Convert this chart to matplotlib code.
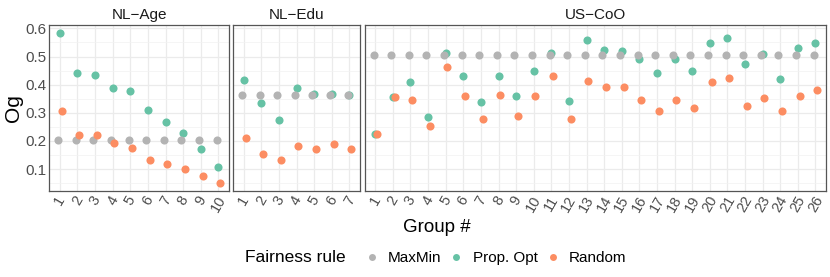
import matplotlib
matplotlib.use("Agg")
import matplotlib.pyplot as plt
from matplotlib.lines import Line2D
from matplotlib.transforms import ScaledTranslation

plt.rcParams["font.family"] = ["Liberation Sans", "DejaVu Sans"]

# valores (Og por grupo)
paneles = ["NL\u2212Age", "NL\u2212Edu", "US\u2212CoO"]

maxmin_age = [0.205] * 10
prop_age = [0.585, 0.441, 0.435, 0.389, 0.378, 0.310, 0.268, 0.230, 0.170, 0.108]
random_age = [0.307, 0.222, 0.220, 0.191, 0.175, 0.134, 0.119, 0.100, 0.075, 0.049]

maxmin_edu = [0.363] * 7
prop_edu = [0.418, 0.336, 0.273, 0.387, 0.367, 0.366, 0.363]
random_edu = [0.209, 0.155, 0.131, 0.183, 0.171, 0.188, 0.171]

maxmin_coo = [0.505] * 26
prop_coo = [0.225, 0.356, 0.408, 0.286, 0.514, 0.430, 0.340, 0.431, 0.360, 0.448,
            0.513, 0.341, 0.559, 0.523, 0.521, 0.490, 0.442, 0.491, 0.447, 0.548,
            0.567, 0.474, 0.509, 0.419, 0.530, 0.547]
random_coo = [0.225, 0.356, 0.347, 0.253, 0.464, 0.358, 0.279, 0.365, 0.289, 0.359,
              0.431, 0.278, 0.413, 0.390, 0.391, 0.347, 0.307, 0.346, 0.317, 0.408,
              0.423, 0.324, 0.351, 0.306, 0.359, 0.382]

reglas = ["MaxMin", "Prop. Opt", "Random"]
colores = {"MaxMin": "#B3B3B3", "Prop. Opt": "#66C2A5", "Random": "#FC8D62"}
desplaz = {"MaxMin": -0.1, "Prop. Opt": 0.0, "Random": 0.1}

datos = [
    {"MaxMin": maxmin_age, "Prop. Opt": prop_age, "Random": random_age},
    {"MaxMin": maxmin_edu, "Prop. Opt": prop_edu, "Random": random_edu},
    {"MaxMin": maxmin_coo, "Prop. Opt": prop_coo, "Random": random_coo},
]

W, H = 830, 277
fig = plt.figure(figsize=(W / 100, H / 100), dpi=100)

bordes_x = [(49.3, 229.0), (233.3, 360.0), (364.7, 826.0)]
arriba, abajo = 25, 191

for panel, serie, (x0, x1) in zip(paneles, datos, bordes_x):
    ax = fig.add_axes([x0 / W, 1 - abajo / H, (x1 - x0) / W, (abajo - arriba) / H])
    n = len(serie["MaxMin"])
    grupos = list(range(1, n + 1))
    for regla in ["Prop. Opt", "MaxMin", "Random"]:
        xs = [g + desplaz[regla] for g in grupos]
        ax.scatter(xs, serie[regla], s=34, color=colores[regla], linewidths=0, zorder=3)

    ax.set_xlim(0.4, n + 0.6)
    ax.set_ylim(0.0222, 0.612)
    ax.set_xticks(grupos)
    ax.set_xticklabels([str(g) for g in grupos], rotation=60, ha="center", va="top",
                       fontsize=10.5, color="#4D4D4D")
    desp = ScaledTranslation(4 / 100, 0, fig.dpi_scale_trans)
    for lab in ax.get_xticklabels():
        lab.set_transform(lab.get_transform() + desp)
    ax.set_yticks([0.1, 0.2, 0.3, 0.4, 0.5, 0.6])
    ax.set_yticks([0.05, 0.15, 0.25, 0.35, 0.45, 0.55], minor=True)
    ax.grid(which="major", color="#EBEBEB", linewidth=0.9, zorder=0)
    ax.grid(which="minor", axis="y", color="#F2F2F2", linewidth=0.5, zorder=0)
    ax.set_axisbelow(True)
    ax.tick_params(which="both", length=0, pad=2)
    if x0 < 50:
        ax.set_yticklabels(["0.1", "0.2", "0.3", "0.4", "0.5", "0.6"], fontsize=11, color="#4D4D4D")
    else:
        ax.set_yticklabels([])
    for s in ax.spines.values():
        s.set_color("#555555")
        s.set_linewidth(0.9)
    ax.set_title(panel, fontsize=11, color="#1A1A1A", pad=4)

fig.text(437 / W, 1 - 228 / H, "Group #", ha="center", va="center", fontsize=13.5)
fig.text(13 / W, 1 - 108 / H, "Og", ha="center", va="center", rotation=90, fontsize=15)

fig.text(245 / W, 1 - 258 / H, "Fairness rule", ha="left", va="center", fontsize=12.5)
manijas = [Line2D([], [], marker="o", linestyle="", markersize=5, markeredgewidth=0,
                  color=colores[r]) for r in reglas]
fig.legend(manijas, reglas, loc="center left", bbox_to_anchor=(364 / W, 1 - 258 / H),
           ncol=3, frameon=False, fontsize=11, handlelength=1.0, handletextpad=0.55,
           columnspacing=0.5, borderpad=0, borderaxespad=0)

fig.savefig("out.png", dpi=100)
